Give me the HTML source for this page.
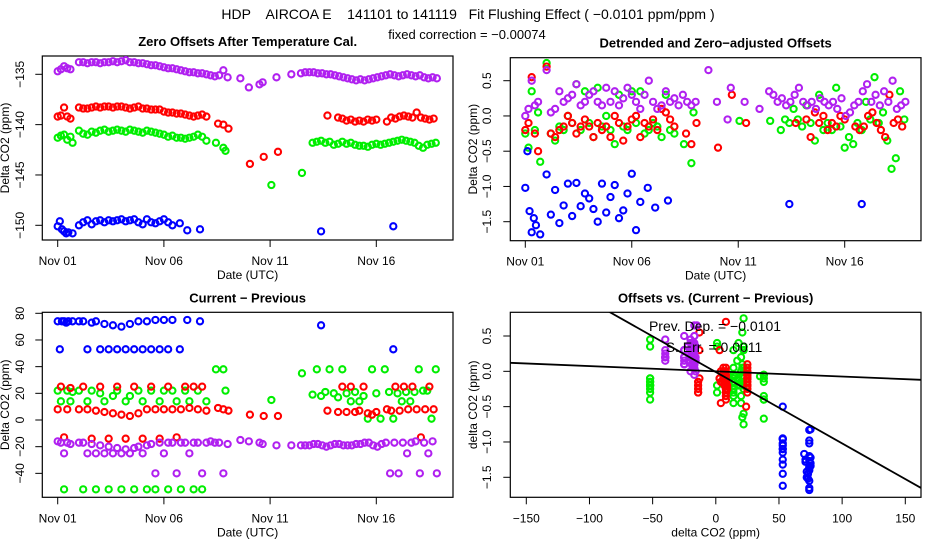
<!DOCTYPE html>
<html><head><meta charset="utf-8"><style>
body{margin:0;background:#fff}
svg{display:block;font-family:"Liberation Sans",sans-serif}
</style></head><body>
<svg id="s" width="936" height="540" viewBox="0 0 936 540">
<text x="468" y="19" font-size="14" text-anchor="middle" xml:space="preserve">HDP    AIRCOA E    141101 to 141119   Fit Flushing Effect ( −0.0101 ppm/ppm )</text>
<text x="467" y="39" font-size="13" text-anchor="middle">fixed correction = −0.00074</text>
</svg>
<script>
// ---- data (t = days since Nov 01 UTC) ----
const purpleT=[0,0.15,0.3,0.45,0.6, 1.0,1.2,1.4,1.6,1.8,2.0,2.2,2.4,2.6,2.8,3.0,3.2,3.4,3.6,3.8,4.0,4.2,4.4,4.6,4.8,5.0,5.2,5.4,5.6,5.8,6.0,6.2,6.4,6.6,6.8,7.0,7.2,7.4,7.6,7.8,8.0, 8.6,9.0,9.5,9.65,10.3,11.0, 11.45,11.65,11.85,12.05,12.25,12.45,12.65,12.85,13.05,13.25,13.45,13.65,13.85,14.05,14.25,14.45,14.65,14.85,15.05,15.25,15.45,15.65,15.85,16.05,16.25,16.45,16.65,16.85,17.05,17.25,17.45,17.65,17.85];
const purpleZero=[-134.7,-134.5,-134.2,-134.4,-134.5, -133.8,-133.8,-133.9,-133.8,-133.8,-133.9,-133.8,-133.8,-133.7,-133.8,-133.7,-133.6,-133.8,-133.8,-133.9,-133.9,-134.0,-134.1,-134.1,-134.2,-134.3,-134.4,-134.4,-134.5,-134.6,-134.7,-134.8,-134.8,-134.9,-134.9,-135.0,-135.1,-135.2,-135.1,-134.6,-135.3, -135.4,-136.3,-136.0,-135.8,-135.3,-135.0, -134.9,-134.8,-134.8,-134.8,-134.9,-134.9,-135.0,-135.0,-135.1,-135.2,-135.3,-135.4,-135.5,-135.6,-135.5,-135.6,-135.5,-135.4,-135.3,-135.2,-135.1,-135.0,-135.1,-135.2,-135.1,-135.0,-135.1,-135.2,-135.1,-135.3,-135.4,-135.3,-135.4];
const purpleDet=[0.0,0.1,0.5,0.15,0.2, 0.65,0.05,0.1,0.35,0.2,0.25,0.3,0.45,0.15,0.2,0.3,0.35,0.2,0.15,0.4,0.2,0.35,0.15,0.25,0.4,0.3,0.2,0.1,0.3,0.5,0.2,0.1,0.15,0.35,0.2,0.25,0.15,0.3,0.2,0.15,0.2, 0.65,0.2,-0.05,0.4,0.2,0.1, 0.35,0.3,0.2,0.25,0.15,0.2,0.3,0.4,0.2,0.15,0.2,0.1,0.25,0.2,0.15,0.2,0.1,0.25,0.0,0.05,0.15,0.2,0.35,0.45,0.2,0.3,0.15,0.35,0.2,0.5,0.1,0.15,0.2];
const purpleDiff=[-16,-17,-25,-17,-18, -17,-17,-25,-18,-25,-19,-25,-20,-25,-21,-25,-22,-25,-21,-20,-25,-19,-18,-40,-17,-25,-17,-17,-40,-17,-17,-25,-17,-17,-40,-17,-16,-17,-17,-40,-18, -15,-16,-17,-18,-19,-19, -19,-19,-19,-18,-18,-19,-20,-19,-18,-18,-19,-19,-19,-18,-18,-17,-17,-19,-20,-18,-17,-40,-17,-40,-17,-25,-17,-16,-40,-17,-25,-16,-40];

const redT=[0,0.15,0.3,0.45,0.6, 1.0,1.2,1.4,1.6,1.8,2.0,2.2,2.4,2.6,2.8,3.0,3.2,3.4,3.6,3.8,4.0,4.2,4.4,4.6,4.8,5.0,5.2,5.4,5.6,5.8,6.0,6.2,6.4,6.6,6.8,7.0, 7.55,7.8,8.04,9.05,9.7,10.37, 12.7,13.2,13.4,13.6,13.8,14.0,14.2,14.4,14.6,14.8,15.0,15.5, 15.7,15.9,16.1,16.3,16.5,16.7,16.9,17.1,17.3,17.5,17.7];
const redZero=[-139.2,-139.1,-138.3,-139.2,-139.4, -138.3,-138.4,-138.4,-138.3,-138.2,-138.3,-138.2,-138.2,-138.3,-138.2,-138.2,-138.3,-138.4,-138.3,-138.2,-138.4,-138.4,-138.5,-138.5,-138.5,-138.7,-138.8,-138.8,-138.9,-138.9,-139.0,-139.1,-139.2,-139.1,-139.0,-139.2, -139.9,-140.0,-140.4,-143.9,-143.2,-142.7, -139.1,-139.3,-139.4,-139.6,-139.5,-139.7,-139.6,-139.7,-139.5,-139.6,-139.5,-139.7, -139.3,-139.4,-139.2,-139.1,-139.2,-139.3,-138.8,-139.3,-139.4,-139.5,-139.4];
const redDet=[-0.2,-0.1,0.55,-0.25,-0.5, 0.7,-0.25,-0.3,-0.2,-0.15,0.0,-0.1,-0.25,-0.15,-0.05,-0.15,-0.3,-0.1,-0.2,-0.15,-0.3,0.0,-0.1,-0.35,-0.15,-0.05,0.0,-0.3,-0.1,-0.15,-0.05,-0.2,0.1,0.05,-0.05,-0.15, -0.25,-0.4,-0.1,-0.45,0.3,-0.1, -0.1,-0.05,-0.3,0.05,-0.1,0.0,-0.2,-0.1,-0.15,0.0,-0.05,-0.15, -0.2,-0.15,0.0,0.05,-0.1,-0.2,-0.3,0.3,-0.1,-0.05,-0.15];
const redDiff=[8,25,-13,8,24, 8,25,8,-14,7,25,6,-14,5,25,4,-14,3,25,5,-14,8,25,8,-14,8,25,8,-13,8,25,9,25,8,25,7, 9,8,7,4,3,3, 7,6,25,6,25,6,7,25,5,4,6,8, 7,25,7,25,8,25,8,-13,8,25,8];

const greenT=[0,0.15,0.3,0.45,0.6,0.7, 1.0,1.2,1.4,1.6,1.8,2.0,2.2,2.4,2.6,2.8,3.0,3.2,3.4,3.6,3.8,4.0,4.2,4.4,4.6,4.8,5.0,5.2,5.4,5.6,5.8,6.0,6.2,6.4,6.6,6.8,7.0, 7.45,7.8,7.9,10.06,11.5, 12.0,12.2,12.4,12.6,12.8,13.0,13.2,13.4,13.6,13.8,14.0,14.2,14.4,14.6,14.8,15.0,15.2,15.4,15.6,15.8,16.0,16.2,16.4,16.6,16.8,17.0,17.2,17.4,17.6,17.8];
const greenZero=[-141.3,-141.1,-141.0,-141.5,-141.2,-141.8, -140.6,-140.9,-141.0,-140.7,-140.8,-140.6,-140.5,-140.7,-140.6,-140.5,-140.6,-140.7,-140.5,-140.6,-140.7,-140.8,-140.6,-140.7,-140.8,-140.9,-141.0,-141.2,-141.1,-141.3,-141.3,-141.4,-141.3,-141.2,-141.0,-141.2,-141.6, -141.8,-142.3,-142.6,-146.0,-144.8, -141.8,-141.7,-141.6,-141.8,-141.7,-142.0,-141.9,-141.7,-141.9,-141.8,-142.0,-142.1,-142.1,-142.2,-142.0,-141.9,-142.0,-141.9,-141.8,-141.7,-141.6,-141.5,-141.6,-141.7,-141.8,-142.1,-142.3,-142.0,-141.9,-141.8];
const greenDet=[-0.25,-0.45,0.35,-0.2,0.05,-0.65, 0.75,-0.25,-0.35,-0.15,-0.2,0.0,-0.1,0.45,-0.2,0.35,-0.1,-0.3,0.4,-0.15,0.0,-0.2,-0.4,0.3,-0.15,-0.2,0.35,-0.1,0.35,-0.25,-0.2,-0.1,-0.15,-0.3,0.3,-0.2,-0.25, -0.4,-0.67,0.05,-0.07,-0.07, -0.2,-0.05,-0.1,0.1,-0.05,-0.15,0.15,-0.1,-0.35,0.3,-0.2,-0.1,-0.2,0.4,-0.15,-0.45,-0.3,-0.4,-0.1,-0.2,0.2,-0.05,0.55,-0.1,0.05,-0.35,-0.75,-0.6,0.35,-0.05];
const greenDiff=[22,14,-52,22,14,21, 22,-52,14,22,-52,20,14,-52,18,22,-52,14,18,-52,22,14,-52,22,-52,14,22,-52,22,14,-52,22,14,-52,22,-52,14, 38,38,22,15,35, 19,38,18,21,38,20,17,38,20,14,21,14,18,1,38,20,1,38,21,1,20,14,21,14,21,38,22,22,1,38];

const blueT=[0,0.1,0.2,0.3,0.4,0.5,0.7, 1.0,1.2,1.4,1.6,1.8,2.0,2.2,2.4,2.6,2.8,3.0,3.2,3.4,3.6,3.8,4.0,4.2,4.4,4.6,4.8,5.0,5.2,5.4, 5.75,6.1,6.7,12.4,15.8];
const blueZero=[-150.1,-149.6,-150.4,-150.6,-150.8,-150.7,-150.8, -150.0,-149.7,-149.5,-149.9,-149.6,-149.5,-149.7,-149.5,-149.6,-149.5,-149.4,-149.6,-149.5,-149.4,-149.7,-149.9,-149.4,-149.7,-149.8,-149.6,-149.4,-149.7,-150.0, -149.8,-150.5,-150.4,-150.6,-150.1];
const blueDet=[-1.02,-0.5,-1.35,-1.65,-1.45,-1.55,-1.68, -0.83,-1.4,-1.05,-1.52,-1.27,-0.96,-1.42,-0.95,-1.28,-1.1,-1.17,-1.32,-1.5,-0.96,-1.37,-1.15,-0.98,-1.45,-1.34,-1.1,-0.82,-1.62,-1.22, -1.02,-1.3,-1.2,-1.25,-1.25];
const blueDiff=[74,53,74,74,73,74,74, 74,74,53,73,74,53,72,53,71,53,70,53,72,53,74,53,74,53,75,53,75,53,75, 53,75,74,71,53];

const dateTicks=[0,5,10,15];
const dateTickLabels=["Nov 01","Nov 06","Nov 11","Nov 16"];
const zeroTicks=[-135,-140,-145,-150];
const detTicks=[0.5,0.0,-0.5,-1.0,-1.5];
const diffTicks=[80,60,40,20,0,-20,-40];
const scatterXTicks=[-150,-100,-50,0,50,100,150];
const fitSlope=-0.0101, fitIntercept=-0.01, fixedSlope=-0.00074;

const series=[
 {name:'green',col:'#00ee00',T:greenT,Z:greenZero,D:greenDet,F:greenDiff},
 {name:'red',col:'#ff0000',T:redT,Z:redZero,D:redDet,F:redDiff},
 {name:'blue',col:'#0000ff',T:blueT,Z:blueZero,D:blueDet,F:blueDiff},
 {name:'purple',col:'#b020f0',T:purpleT,Z:purpleZero,D:purpleDet,F:purpleDiff}
];

const NS='http://www.w3.org/2000/svg', svg=document.getElementById('s');
function mk(tag,attrs,parent){const e=document.createElementNS(NS,tag);for(const k in attrs)e.setAttribute(k,attrs[k]);(parent||svg).appendChild(e);return e;}
function lin(d0,d1,p0,p1){return v=>p0+(v-d0)*(p1-p0)/(d1-d0);}

function panel(id,box,title,xs,ys,xt,xl,yt,yl,xlab,ylab,ylabX,ytX){
 const g=mk('g',{});
 
 
 const b=mk('rect',{x:box[0],y:box[1],width:box[2]-box[0],height:box[3]-box[1],fill:'none',stroke:'#000','stroke-width':1.2},g);
 
 
 const t=mk('text',{x:(box[0]+box[2])/2,y:box[1]-10,'font-size':13,'font-weight':'bold','text-anchor':'middle'},g);
 t.textContent=title;
 
 
 xt.forEach((v,i)=>{const x=xs(v);
  const l=mk('line',{x1:x,x2:x,y1:box[3],y2:box[3]+7,stroke:'#000'},g);
  
  
  const tx=mk('text',{x:x,y:box[3]+25,'font-size':12,'text-anchor':'middle'},g);tx.textContent=xl[i];
  
  });
 yt.forEach((v,i)=>{const y=ys(v);
  const l=mk('line',{x1:box[0]-7,x2:box[0],y1:y,y2:y,stroke:'#000'},g);
  
  
  const tx=mk('text',{x:ytX,y:y,'font-size':12,'text-anchor':'middle',transform:`rotate(-90 ${ytX} ${y})`},g);tx.textContent=yl[i];
  
  });
 const xa=mk('text',{x:(box[0]+box[2])/2,y:box[3]+39,'font-size':12,'text-anchor':'middle'},g);xa.textContent=xlab;
 
 
 const cy=(box[1]+box[3])/2;
 const ya=mk('text',{x:ylabX,y:cy,'font-size':12,'text-anchor':'middle',transform:`rotate(-90 ${ylabX} ${cy})`},g);ya.textContent=ylab;
 
 
 const cid='clip-'+id;
 const cp=mk('clipPath',{id:cid},g);mk('rect',{x:box[0],y:box[1],width:box[2]-box[0],height:box[3]-box[1]},cp);
 const pg=mk('g',{'clip-path':`url(#${cid})`},g);
 
 
 return pg;
}
function pts(pg,col,X,Y,xs,ys,nm){
 const n=Math.min(X.length,Y.length);
 for(let i=0;i<n;i++){
  const c=mk('circle',{cx:xs(X[i]),cy:ys(Y[i]),r:3.1,fill:'none',stroke:col,'stroke-width':2.1},pg);
  
  
 }
}
const fmt=v=>(v<0?'−':'')+Math.abs(v);
const fmt1=v=>(v<0?'−':'')+Math.abs(v).toFixed(1);

// panel 1
const b1=[42.3,56,453,240];
const x1=lin(0,15,57.7,376.3), y1=lin(-135,-150,74.3,225.3);
const p1=panel('zero-offsets-panel',b1,'Zero Offsets After Temperature Cal.',x1,y1,dateTicks,dateTickLabels,zeroTicks,zeroTicks.map(fmt),'Date (UTC)','Delta CO2 (ppm)',9,24);
series.forEach(s=>pts(p1,s.col,s.T,s.Z,x1,y1,s.name+'-zero-offset-point'));

// panel 2
const b2=[510.3,57.7,921,240.7];
const x2=lin(0,15,525.3,844.7), y2=lin(0.5,-1.5,80.7,221.7);
const p2=panel('detrended-offsets-panel',b2,'Detrended and Zero−adjusted Offsets',x2,y2,dateTicks,dateTickLabels,detTicks,detTicks.map(fmt1),'Date (UTC)','Delta CO2 (ppm)',477,491);
series.forEach(s=>pts(p2,s.col,s.T,s.D,x2,y2,s.name+'-detrended-point'));

// panel 3
const b3=[42.3,312.3,453,497.3];
const x3=lin(0,15,57.7,376.3), y3=lin(80,0,313.3,420);
const p3=panel('current-minus-previous-panel',b3,'Current − Previous',x3,y3,dateTicks,dateTickLabels,diffTicks,diffTicks.map(fmt),'Date (UTC)','Delta CO2 (ppm)',9,24);
series.forEach(s=>pts(p3,s.col,s.T,s.F,x3,y3,s.name+'-difference-point'));

// panel 4
const b4=[510.3,312.3,921,497.3];
const x4=lin(-150,150,526.3,905.3), y4=lin(0.5,-1.5,336,477.3);
const p4=panel('offsets-vs-difference-panel',b4,'Offsets vs. (Current − Previous)',x4,y4,scatterXTicks,scatterXTicks.map(fmt),detTicks,detTicks.map(fmt1),'delta CO2 (ppm)','delta CO2 (ppm)',477,491);
series.forEach(s=>pts(p4,s.col,s.F,s.D,x4,y4,s.name+'-scatter-point'));
const fl=mk('line',{x1:x4(-200),y1:y4(fitIntercept+fitSlope*-200),x2:x4(200),y2:y4(fitIntercept+fitSlope*200),stroke:'#000','stroke-width':1.8},p4);


const xl=mk('line',{x1:x4(-200),y1:y4(fixedSlope*-200),x2:x4(200),y2:y4(fixedSlope*200),stroke:'#000','stroke-width':1.8},p4);


const a1=mk('text',{x:715,y:331,'font-size':14,'text-anchor':'middle','xml:space':'preserve'});
a1.textContent='Prev. Dep. =  −0.0101';


const a2=mk('text',{x:714,y:352,'font-size':14,'text-anchor':'middle','xml:space':'preserve'});
a2.textContent='S. Err. =  0.0011';


</script>
</body></html>
